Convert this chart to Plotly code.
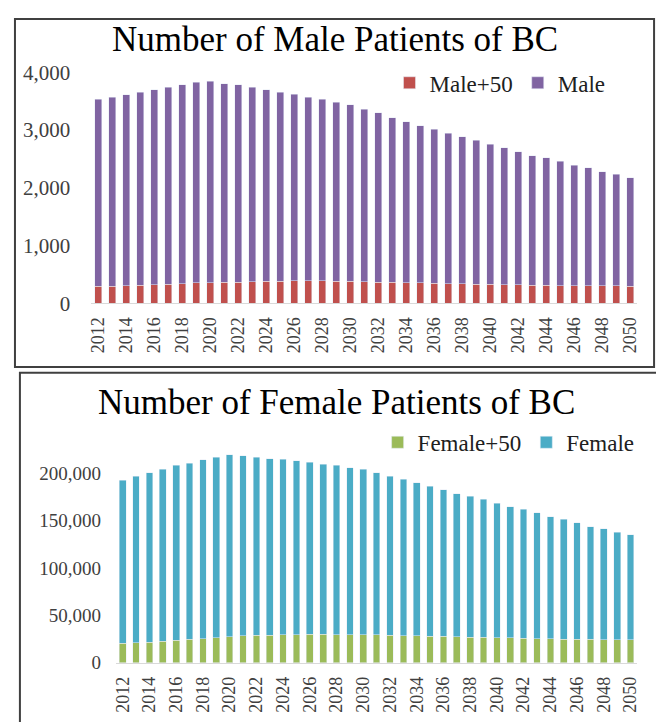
import plotly.graph_objects as go

YEARS = list(range(2012, 2051))

MALE_50 = [290, 295, 305, 310, 320, 330, 340, 350, 355, 360,
           365, 370, 375, 380, 385, 385, 385, 380, 375, 370,
           365, 360, 355, 350, 345, 340, 335, 330, 325, 320,
           315, 310, 310, 305, 305, 300, 300, 300, 295]
MALE = [3240, 3275, 3305, 3340, 3380, 3405, 3440, 3475, 3490, 3440,
        3415, 3365, 3325, 3275, 3230, 3185, 3145, 3100, 3065, 2985,
        2930, 2850, 2785, 2725, 2670, 2605, 2545, 2490, 2425, 2370,
        2310, 2245, 2205, 2150, 2085, 2045, 1980, 1935, 1880]

FEMALE_50 = [20500, 21000, 21500, 22500, 23500, 24500, 25500, 26500, 27500, 28500,
             29000, 29200, 29500, 29700, 29800, 29800, 29700, 29600, 29500, 29300,
             29000, 28700, 28400, 28000, 27700, 27400, 27000, 26700, 26400, 26100,
             25800, 25500, 25200, 25000, 24800, 24600, 24400, 24200, 24000]
FEMALE = [172400, 176000, 179400, 181900, 185100, 186500, 189100, 190800, 192600, 190600,
          188300, 186700, 185400, 183800, 182300, 180200, 178900, 176600, 174900, 171600,
          168000, 165200, 162000, 158600, 155000, 151500, 149100, 145900, 142400, 138800,
          136700, 133100, 129200, 126700, 123300, 119300, 117400, 113800, 111200]

MALE_TICKS = [0, 1000, 2000, 3000, 4000]
FEMALE_TICKS = [0, 50000, 100000, 150000, 200000]

# page body has an 8px margin, so the figure is sized to fit the window
OFF = 8
W, H = 664 - OFF, 722 - OFF
SERIF = "Liberation Serif, Times New Roman, serif"


def px_x(x):
    return (x - OFF) / W


def px_y(y):
    return 1 - (y - OFF) / H


fig = go.Figure()

fig.add_trace(go.Bar(x=YEARS, y=MALE_50, name="Male+50", marker_color="#C0504D",
                     xaxis="x", yaxis="y", legend="legend"))
fig.add_trace(go.Bar(x=YEARS, y=MALE, name="Male", marker_color="#8064A2",
                     xaxis="x", yaxis="y", legend="legend"))
fig.add_trace(go.Bar(x=YEARS, y=FEMALE_50, name="Female+50", marker_color="#9BBB59",
                     xaxis="x2", yaxis="y2", legend="legend2"))
fig.add_trace(go.Bar(x=YEARS, y=FEMALE, name="Female", marker_color="#4BACC6",
                     xaxis="x2", yaxis="y2", legend="legend2"))

xfont = dict(family=SERIF, size=18, color="#404040")
xcommon = dict(range=[2011.5, 2050.5], tickmode="array", tickvals=YEARS[::2],
               tickangle=-90, showgrid=False, zeroline=False, showline=True,
               linecolor="#d9d9d9", linewidth=1, tickfont=xfont,
               ticklabelstandoff=6)
ycommon = dict(showgrid=False, zeroline=False, showline=False, tickformat=",d")
legfont = dict(family=SERIF, size=23, color="#202020")

fig.update_layout(
    width=W, height=H, autosize=False,
    margin=dict(l=0, r=0, t=0, b=0),
    paper_bgcolor="white", plot_bgcolor="white",
    barmode="stack", bargap=0.5,
    xaxis=dict(domain=[px_x(89), px_x(640)], anchor="y", **xcommon),
    yaxis=dict(domain=[px_y(301), px_y(62)], anchor="x", range=[0, 4000],
               tickvals=MALE_TICKS, ticklabelstandoff=20,
               tickfont=dict(family=SERIF, size=21, color="#404040"), **ycommon),
    xaxis2=dict(domain=[px_x(114), px_x(640)], anchor="y2", **xcommon),
    yaxis2=dict(domain=[px_y(673), px_y(448)], anchor="x2", range=[0, 230000],
                tickvals=FEMALE_TICKS, ticklabelstandoff=14,
                tickfont=dict(family=SERIF, size=19, color="#404040"), **ycommon),
    legend=dict(orientation="h", x=px_x(390), y=px_y(73), xanchor="left", yanchor="middle",
                font=legfont, bgcolor="rgba(0,0,0,0)", itemwidth=30,
                traceorder="normal"),
    legend2=dict(orientation="h", x=px_x(378), y=px_y(445), xanchor="left", yanchor="middle",
                 font=legfont, bgcolor="rgba(0,0,0,0)", itemwidth=30,
                 traceorder="normal"),
    annotations=[
        dict(text="Number of Male Patients of BC", x=px_x(335), y=px_y(28),
             xref="paper", yref="paper", xanchor="center", yanchor="middle",
             showarrow=False, font=dict(family=SERIF, size=35, color="#000000")),
        dict(text="Number of Female Patients of BC", x=px_x(337), y=px_y(404),
             xref="paper", yref="paper", xanchor="center", yanchor="middle",
             showarrow=False, font=dict(family=SERIF, size=35, color="#000000")),
    ],
    shapes=[
        dict(type="rect", xref="paper", yref="paper",
             x0=px_x(12), x1=px_x(657), y0=px_y(367), y1=px_y(7),
             line=dict(color="#404040", width=2)),
        dict(type="rect", xref="paper", yref="paper",
             x0=px_x(17), x1=px_x(660), y0=-0.02, y1=px_y(373),
             line=dict(color="#404040", width=2)),
    ],
)

fig.write_html("out.html")
